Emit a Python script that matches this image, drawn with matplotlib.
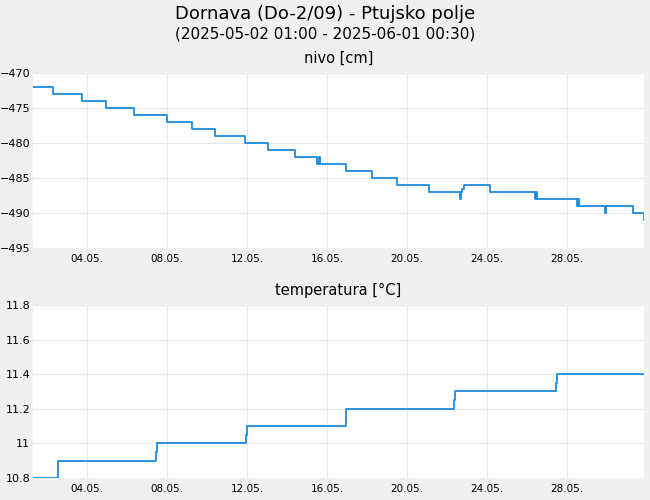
import matplotlib
matplotlib.use("Agg")
import matplotlib.pyplot as plt
import numpy as np

# level changes: (days from start, value)
lvl_days = [0, 1.0, 2.45, 3.65, 5.05, 6.7, 7.95, 9.1, 10.6, 11.75, 13.1, 14.2, 14.3, 14.35, 15.65,
            16.95, 18.2, 19.8, 21.35, 21.4, 21.45, 21.55, 22.85, 25.1, 25.15, 25.2, 25.3, 27.2, 27.25, 27.3, 28.5, 28.6, 28.65, 30.0, 30.55]
lvl_vals = [-472, -473, -474, -475, -476, -477, -478, -479, -480, -481, -482, -483, -482, -483, -484,
            -485, -486, -487, -488, -487, -486.5, -486, -487, -488, -487, -488, -488, -489, -488, -489, -489, -490, -489, -490, -491]
tmp_days = [0, 1.25, 6.15, 6.2, 10.65, 10.7, 15.65, 21.05, 21.1, 26.15, 26.2, 30.55]
tmp_vals = [10.8, 10.9, 10.95, 11.0, 11.05, 11.1, 11.2, 11.25, 11.3, 11.35, 11.4, 11.4]
tick_labels = ["04.05.", "08.05.", "12.05.", "16.05.", "20.05.", "24.05.", "28.05."]
tick_pos = [2.7 + 4 * i for i in range(7)]

col = "#1a8be0"
fig = plt.figure(figsize=(6.5, 5), dpi=100, facecolor="#f0f0f0")
fig.text(0.5, 0.972, "Dornava (Do-2/09) - Ptujsko polje", ha="center", va="center", fontsize=13)
fig.text(0.5, 0.932, "(2025-05-02 01:00 - 2025-06-01 00:30)", ha="center", va="center", fontsize=11)

W, H = 650, 500
def mk(top, bot):
    return fig.add_axes([33 / W, 1 - bot / H, (644 - 33) / W, (bot - top) / H])

ax1 = mk(73, 248)
ax2 = mk(305, 478)
for ax, d, v, lim, yt, title in [
    (ax1, lvl_days, lvl_vals, (-495, -470), np.arange(-495, -469, 5), "nivo [cm]"),
    (ax2, tmp_days, tmp_vals, (10.8, 11.8), [10.8, 11.0, 11.2, 11.4, 11.6, 11.8], "temperatura [°C]"),
]:
    ax.set_facecolor("white")
    ax.step(d, v, where="post", color=col, lw=1.3)
    ax.set_xlim(0, 30.55)
    ax.set_ylim(*lim)
    ax.set_yticks(yt)
    if ax is ax2:
        ax.set_yticklabels(["10.8", "11", "11.2", "11.4", "11.6", "11.8"])
    ax.set_xticks(tick_pos)
    ax.set_xticklabels(tick_labels)
    ax.grid(True, color="#e8e8e8", lw=0.8)
    for s in ax.spines.values():
        s.set_visible(False)
    ax.tick_params(length=0, labelsize=7.5, pad=4)
    ax.tick_params(axis="y", labelsize=8, pad=2)
    ax.set_title(title, fontsize=10.5, pad=7)

fig.savefig("out.png", dpi=100, facecolor=fig.get_facecolor())
